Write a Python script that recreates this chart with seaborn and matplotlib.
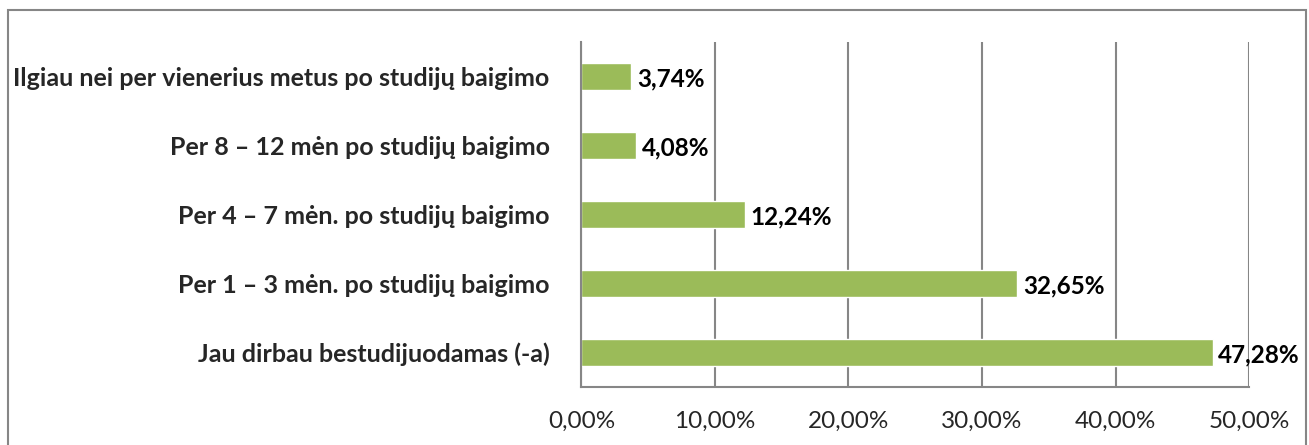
import matplotlib
matplotlib.use("Agg")
import matplotlib.pyplot as plt
import seaborn as sns
import pandas as pd
import numpy as np
from matplotlib.patches import Rectangle

categories = [
    "Ilgiau nei per vienerius metus po studijų baigimo",
    "Per 8 – 12 mėn po studijų baigimo",
    "Per 4 – 7 mėn. po studijų baigimo",
    "Per 1 – 3 mėn. po studijų baigimo",
    "Jau dirbau bestudijuodamas (-a)",
]
values = [3.74, 4.08, 12.24, 32.65, 47.28]
xticks = [0, 10, 20, 30, 40, 50]

sns.set_theme(style="white")
plt.rcParams['font.family'] = ['Lato', 'DejaVu Sans']

df = pd.DataFrame({"cat": categories, "val": values})

fig = plt.figure(figsize=(13.09, 4.45), dpi=100)
ax = fig.add_axes([0.4442, 0.1303, 0.5100, 0.7753])

sns.barplot(data=df, y="cat", x="val", orient="h", color="#9BBB59",
            saturation=1, width=0.39, ax=ax)

grid_c = "#868686"
ax.set_xlim(0, 50)
ax.set_ylim(len(categories) - 0.5, -0.5)
ax.set_xticks(xticks)
ax.set_xticklabels([f"{t:.2f}%".replace(".", ",") for t in xticks], fontsize=17.5)
ax.xaxis.grid(True, color=grid_c, linewidth=1.5)
ax.set_axisbelow(True)
ax.set_xlabel("")
ax.set_ylabel("")
for lbl in ax.get_yticklabels():
    lbl.set_fontweight("bold")
    lbl.set_fontsize(18)
ax.tick_params(axis="y", which="major", length=0, pad=23)
ax.set_yticks(np.arange(-0.5, len(categories), 1.0), minor=True)
ax.tick_params(axis="y", which="minor", length=6, width=1.5, color=grid_c, direction="out")
ax.tick_params(axis="x", which="major", length=7, width=1.5, color=grid_c, direction="out", pad=10)

for s in ["top", "right"]:
    ax.spines[s].set_visible(False)
for s in ["left", "bottom"]:
    ax.spines[s].set_color(grid_c)
    ax.spines[s].set_linewidth(1.5)

for i, v in enumerate(values):
    ax.annotate(f"{v:.2f}%".replace(".", ","), xy=(v, i), xytext=(4, -2),
                textcoords="offset points", va="center", ha="left",
                fontsize=17.5, fontweight="bold", color="black")

fig.patches.append(Rectangle((8 / 1309, -0.1), (1306 - 8) / 1309, 1.1 - 10 / 445,
                             transform=fig.transFigure, fill=False,
                             edgecolor=grid_c, linewidth=1.5, figure=fig))

fig.savefig("out.png", dpi=100)
